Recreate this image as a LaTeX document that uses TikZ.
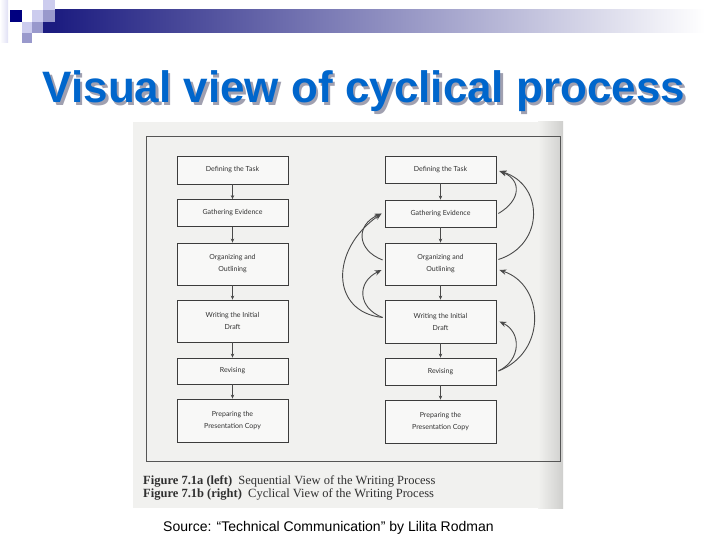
\documentclass[tikz,border=0pt]{standalone}
\usepackage{fontspec}
\setmainfont{Liberation Serif}
\newfontfamily\titlefont{Liberation Sans}
\newfontfamily\boxfont{Lato}
\usetikzlibrary{arrows.meta,calc}
\definecolor{barnavy}{HTML}{1C1C80}
\definecolor{barmid}{HTML}{9E9EB4}
\definecolor{navy}{HTML}{000080}
\definecolor{lav}{HTML}{CCCCEE}
\definecolor{midlav}{HTML}{9999CC}
\definecolor{titleblue}{HTML}{0066CC}
\definecolor{titleshadow}{HTML}{A0A0B0}
\definecolor{scanbg}{HTML}{F1F1EF}
\definecolor{scanedge}{HTML}{CFCFCD}
\definecolor{framec}{HTML}{555555}
\definecolor{boxline}{HTML}{3C3C3C}
\definecolor{boxtext}{HTML}{333333}
\definecolor{arrowc}{HTML}{4A4A4A}
\definecolor{captext}{HTML}{303030}
\begin{document}
\begin{tikzpicture}[x=1pt,y=-1pt,
  stepbox/.style={draw=boxline, line width=0.8pt, fill=white!50!scanbg,
    minimum width=111pt, inner sep=1pt, align=center, text=boxtext,
    font=\boxfont\fontsize{7}{12}\selectfont},
  flow/.style={draw=arrowc, line width=0.8pt, -{Stealth[length=4pt,width=3.5pt]}},
  cyc/.style={draw=arrowc, line width=0.9pt, -{Stealth[length=7pt,width=5.5pt]}},
  titlestyle/.style={font=\titlefont\bfseries\fontsize{44}{48}\selectfont, anchor=base, inner sep=0pt},
  capstyle/.style={font=\fontsize{12.5}{14}\selectfont, text=captext, anchor=base west, inner sep=0pt}]
\useasboundingbox (0,0) rectangle (720,540);
\fill[white] (0,0) rectangle (720,540);
% header decoration
\shade[left color=barnavy, middle color=barmid, right color=white] (55,10) rectangle (705,33);
\shade[left color=white, right color=lav!60] (0,0) rectangle (8,43);
\fill[navy] (10,10) rectangle (22,22);
\fill[lav] (32,10) rectangle (43,22);
\fill[lav] (43,0) rectangle (55,10);
\fill[midlav] (43,10) rectangle (55,22);
\fill[lav] (22,22) rectangle (32,33);
\fill[midlav] (32,22) rectangle (43,33);
\fill[barnavy] (43,22) rectangle (55,33);
\fill[midlav] (22,33) rectangle (32,43);
% title with its shadow
\node[titlestyle, text=titleshadow] (tshadow) at (366.5,105.5) {Visual view of cyclical process};
\node[titlestyle, text=titleblue] (title) at (364,103) {Visual view of cyclical process};
% scanned page
\fill[scanbg] (133,122) rectangle (563,508);
\shade[left color=scanbg, right color=scanedge] (538,122) rectangle (563,508);
\draw[framec, line width=0.8pt] (146,136) rectangle (560,461);
% left column
\node[stepbox, minimum height=28pt] (lD) at (232.5,170) {Defining the Task};
\node[stepbox, minimum height=27pt] (lG) at (232.5,213) {Gathering Evidence};
\node[stepbox, minimum height=42pt] (lO) at (232.5,264) {Organizing and\\Outlining};
\node[stepbox, minimum height=42pt] (lW) at (232.5,321) {Writing the Initial\\Draft};
\node[stepbox, minimum height=26pt] (lR) at (232.5,371) {Revising};
\node[stepbox, minimum height=43pt] (lP) at (232.5,420.5) {Preparing the\\Presentation Copy};
\draw[flow] (lD) -- (lG);
\draw[flow] (lG) -- (lO);
\draw[flow] (lO) -- (lW);
\draw[flow] (lW) -- (lR);
\draw[flow] (lR) -- (lP);
% right column
\node[stepbox, minimum height=27pt] (rD) at (440.5,169.5) {Defining the Task};
\node[stepbox, minimum height=27pt] (rG) at (440.5,213.5) {Gathering Evidence};
\node[stepbox, minimum height=42pt] (rO) at (440.5,264) {Organizing and\\Outlining};
\node[stepbox, minimum height=43pt] (rW) at (440.5,321.5) {Writing the Initial\\Draft};
\node[stepbox, minimum height=27pt] (rR) at (440.5,371.5) {Revising};
\node[stepbox, minimum height=43pt] (rP) at (440.5,421.5) {Preparing the\\Presentation Copy};
\draw[flow] (rD) -- (rG);
\draw[flow] (rG) -- (rO);
\draw[flow] (rO) -- (rW);
\draw[flow] (rW) -- (rR);
\draw[flow] (rR) -- (rP);
% cyclical arrows, right side
\draw[cyc] ($(rG.east)+(2,0)$) .. controls +(23,-13.5) and +(22,9) .. ($(rD.east)+(3,1.5)$);
\draw[cyc] ($(rO.east)+(2,-4.5)$) .. controls +(46,-14.5) and +(45,14) .. ($(rD.east)+(3,1.5)$);
\draw[cyc] ($(rR.east)+(2,-0.5)$) .. controls +(23,-11) and +(22,10.5) .. ($(rW.east)+(3,0)$);
\draw[cyc] ($(rR.east)+(2,-0.5)$) .. controls +(49,-19) and +(45,15) .. ($(rO.east)+(3,6)$);
% cyclical arrows, left side
\draw[cyc] ($(rO.west)+(-2,-4)$) .. controls +(-26,-10) and +(-26,11.5) .. ($(rG.west)+(-3,0)$);
\draw[cyc] ($(rW.west)+(-2,-4)$) .. controls +(-52,-5.5) and +(-52,36.5) .. ($(rG.west)+(-3,0)$);
\draw[cyc] ($(rW.west)+(-2,-4)$) .. controls +(-25,-9.5) and +(-25,12) .. ($(rO.west)+(-3,6)$);
% captions
\node[capstyle] (cap1) at (143,484) {\textbf{Figure 7.1a (left)}\enspace Sequential View of the Writing Process};
\node[capstyle] (cap2) at (143,497.5) {\textbf{Figure 7.1b (right)}\enspace Cyclical View of the Writing Process};
% source
\node[font=\titlefont\fontsize{14}{16}\selectfont, anchor=base west, inner sep=0pt] (src) at (163,531) {Source: “Technical Communication” by Lilita Rodman};
\end{tikzpicture}
\end{document}
